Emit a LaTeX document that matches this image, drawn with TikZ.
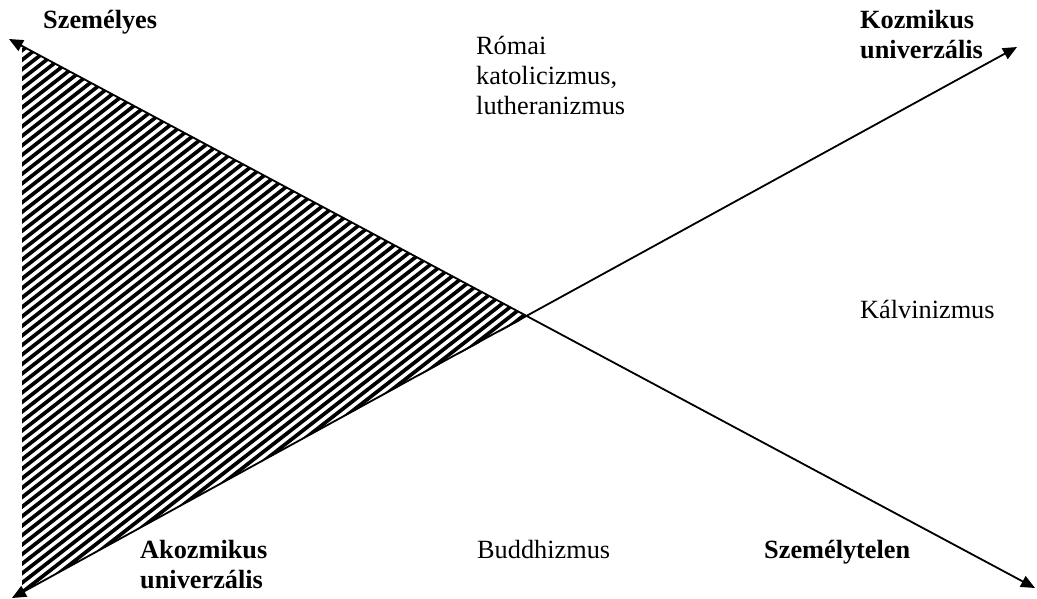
\documentclass[tikz,border=0pt]{standalone}
\usepackage{fontspec}
\setmainfont{Liberation Serif}
\usetikzlibrary{arrows.meta}
\tikzset{
  axisline/.style={line width=1.8pt, {Triangle[length=14pt,width=12pt]}-{Triangle[length=14pt,width=12pt]}},
  pole/.style={anchor=base west, inner sep=0pt, align=left, font=\bfseries\fontsize{26.3}{30}\selectfont},
  faith/.style={anchor=base west, inner sep=0pt, align=left, font=\fontsize{26.3}{30}\selectfont},
  stripe/.style={line width=3.7pt, black}
}
\begin{document}
\begin{tikzpicture}[x=1pt, y=-1pt]
  \useasboundingbox (0,0) rectangle (1037,599);
  % axis end points
  \coordinate (pers)   at (9,39);
  \coordinate (impers) at (1035,588);
  \coordinate (acosm)  at (12,598);
  \coordinate (cosm)   at (1017,47);
  \coordinate (cross)  at (527,317);
  % hatched wedge between the two axes
  \begin{scope}
    \clip (22,46) -- (cross) -- (22,592) -- cycle;
    \foreach \k in {-70,...,45}
      \draw[stripe] (12.2*\k,600) -- (12.2*\k+770,0);
  \end{scope}
  % axes
  \draw[axisline] (pers) -- (impers);
  \draw[axisline] (acosm) -- (cosm);
  % pole labels (multi-line labels sit on their last baseline)
  \node[pole] (szemelyes) at (43,29) {Személyes};
  \node[pole] (kozmikus) at (860,59) {Kozmikus\\univerzális};
  \node[pole] (akozmikus) at (140,588) {Akozmikus\\univerzális};
  \node[pole] (szemelytelen) at (764,558) {Személytelen};
  % religions
  \node[faith] (romai) at (476,115) {Római\\katolicizmus,\\lutheranizmus};
  \node[faith] (kalvin) at (860,318) {Kálvinizmus};
  \node[faith] (buddh) at (477,558) {Buddhizmus};
\end{tikzpicture}
\end{document}
